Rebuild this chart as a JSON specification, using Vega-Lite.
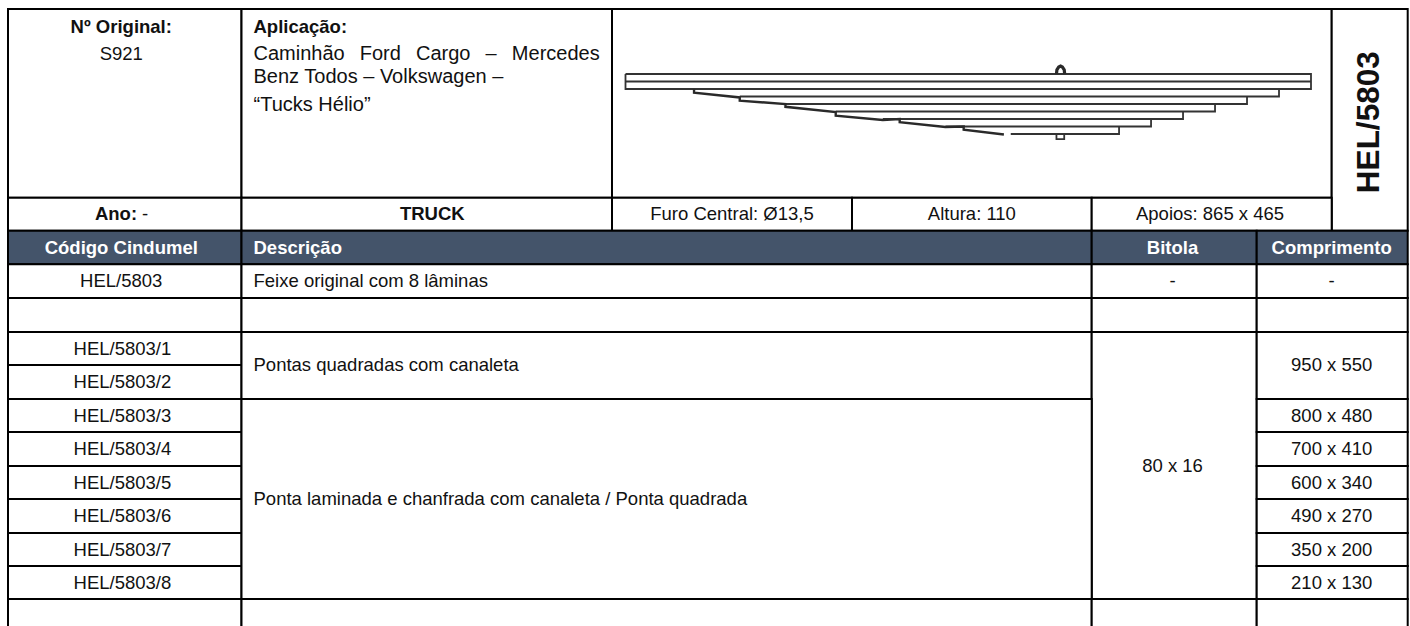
{"$schema":"https://vega.github.io/schema/vega-lite/v6.json","width":1410,"height":626,"padding":0,"autosize":{"type":"fit","contains":"padding"},"background":"#ffffff","config":{"view":{"stroke":null},"axis":{"disable":true},"text":{"font":"Liberation Sans"}},"datasets":{"cells":[
{"c0":0,"c1":1,"r0":0,"r1":1,"kind":"body"},{"c0":1,"c1":2,"r0":0,"r1":1,"kind":"body"},{"c0":2,"c1":6,"r0":0,"r1":1,"kind":"body"},{"c0":6,"c1":7,"r0":0,"r1":2,"kind":"body"},
{"c0":0,"c1":1,"r0":1,"r1":2,"kind":"body"},{"c0":1,"c1":2,"r0":1,"r1":2,"kind":"body"},{"c0":2,"c1":3,"r0":1,"r1":2,"kind":"body"},{"c0":3,"c1":4,"r0":1,"r1":2,"kind":"body"},{"c0":4,"c1":6,"r0":1,"r1":2,"kind":"body"},
{"c0":0,"c1":1,"r0":2,"r1":3,"kind":"head"},{"c0":1,"c1":4,"r0":2,"r1":3,"kind":"head"},{"c0":4,"c1":5,"r0":2,"r1":3,"kind":"head"},{"c0":5,"c1":7,"r0":2,"r1":3,"kind":"head"},
{"c0":0,"c1":1,"r0":3,"r1":4,"kind":"body"},{"c0":1,"c1":4,"r0":3,"r1":4,"kind":"body"},{"c0":4,"c1":5,"r0":3,"r1":4,"kind":"body"},{"c0":5,"c1":7,"r0":3,"r1":4,"kind":"body"},
{"c0":0,"c1":1,"r0":4,"r1":5,"kind":"body"},{"c0":1,"c1":4,"r0":4,"r1":5,"kind":"body"},{"c0":4,"c1":5,"r0":4,"r1":5,"kind":"body"},{"c0":5,"c1":7,"r0":4,"r1":5,"kind":"body"},
{"c0":0,"c1":1,"r0":5,"r1":6,"kind":"body"},{"c0":0,"c1":1,"r0":6,"r1":7,"kind":"body"},{"c0":1,"c1":4,"r0":5,"r1":7,"kind":"body"},{"c0":4,"c1":5,"r0":5,"r1":13,"kind":"body"},{"c0":5,"c1":7,"r0":5,"r1":7,"kind":"body"},
{"c0":0,"c1":1,"r0":7,"r1":8,"kind":"body"},{"c0":0,"c1":1,"r0":8,"r1":9,"kind":"body"},{"c0":0,"c1":1,"r0":9,"r1":10,"kind":"body"},{"c0":0,"c1":1,"r0":10,"r1":11,"kind":"body"},{"c0":0,"c1":1,"r0":11,"r1":12,"kind":"body"},{"c0":0,"c1":1,"r0":12,"r1":13,"kind":"body"},
{"c0":1,"c1":4,"r0":7,"r1":13,"kind":"body"},
{"c0":5,"c1":7,"r0":7,"r1":8,"kind":"body"},{"c0":5,"c1":7,"r0":8,"r1":9,"kind":"body"},{"c0":5,"c1":7,"r0":9,"r1":10,"kind":"body"},{"c0":5,"c1":7,"r0":10,"r1":11,"kind":"body"},{"c0":5,"c1":7,"r0":11,"r1":12,"kind":"body"},{"c0":5,"c1":7,"r0":12,"r1":13,"kind":"body"},
{"c0":0,"c1":1,"r0":13,"r1":14,"kind":"body"},{"c0":1,"c1":4,"r0":13,"r1":14,"kind":"body"},{"c0":4,"c1":5,"r0":13,"r1":14,"kind":"body"},{"c0":5,"c1":7,"r0":13,"r1":14,"kind":"body"}
],"texts":[
{"col":0.485,"row":0.094,"label":"Nº Original:","kind":"boldC"},
{"col":0.485,"row":0.238,"label":"S921","kind":"regC"},
{"col":1,"row":0.094,"label":"Aplicação:","kind":"boldL"},
{"col":1,"row":0.238,"label":"Caminhão\u00a0\u00a0\u2009Ford\u00a0\u00a0\u2009Cargo\u00a0\u00a0\u2009–\u00a0\u00a0\u2009Mercedes","kind":"appL"},
{"col":1,"row":0.36,"label":"Benz Todos – Volkswagen –","kind":"appL"},
{"col":1,"row":0.509,"label":"“Tucks Hélio”","kind":"appL"},
{"col":0.4625,"row":1.5,"label":"Ano:","kind":"boldC"},
{"col":0.587,"row":1.5,"label":"-","kind":"regC"},
{"col":1.515,"row":1.5,"label":"TRUCK","kind":"boldC"},
{"col":2.5,"row":1.5,"label":"Furo Central: Ø13,5","kind":"regC"},
{"col":3.5,"row":1.5,"label":"Altura: 110","kind":"regC"},
{"col":4.717,"row":1.5,"label":"Apoios: 865 x 465","kind":"regC"},
{"col":0.485,"row":2.5,"label":"Código Cindumel","kind":"headC"},
{"col":1,"row":2.5,"label":"Descrição","kind":"headL"},
{"col":4.49,"row":2.5,"label":"Bitola","kind":"headC"},
{"col":6,"row":2.5,"label":"Comprimento","kind":"headC"},
{"col":0.485,"row":3.5,"label":"HEL/5803","kind":"regC"},
{"col":1,"row":3.5,"label":"Feixe original com 8 lâminas","kind":"regL"},
{"col":4.49,"row":3.5,"label":"-","kind":"regC"},
{"col":6,"row":3.5,"label":"-","kind":"regC"},
{"col":0.49,"row":5.5,"label":"HEL/5803/1","kind":"regC"},
{"col":0.49,"row":6.5,"label":"HEL/5803/2","kind":"regC"},
{"col":0.49,"row":7.5,"label":"HEL/5803/3","kind":"regC"},
{"col":0.49,"row":8.5,"label":"HEL/5803/4","kind":"regC"},
{"col":0.49,"row":9.5,"label":"HEL/5803/5","kind":"regC"},
{"col":0.49,"row":10.5,"label":"HEL/5803/6","kind":"regC"},
{"col":0.49,"row":11.5,"label":"HEL/5803/7","kind":"regC"},
{"col":0.49,"row":12.5,"label":"HEL/5803/8","kind":"regC"},
{"col":1,"row":6,"label":"Pontas quadradas com canaleta","kind":"regL"},
{"col":1,"row":10,"label":"Ponta laminada e chanfrada com canaleta / Ponta quadrada","kind":"regL"},
{"col":4.49,"row":9,"label":"80 x 16","kind":"regC"},
{"col":6,"row":6,"label":"950 x 550","kind":"regC"},
{"col":6,"row":7.5,"label":"800 x 480","kind":"regC"},
{"col":6,"row":8.5,"label":"700 x 410","kind":"regC"},
{"col":6,"row":9.5,"label":"600 x 340","kind":"regC"},
{"col":6,"row":10.5,"label":"490 x 270","kind":"regC"},
{"col":6,"row":11.5,"label":"350 x 200","kind":"regC"},
{"col":6,"row":12.5,"label":"210 x 130","kind":"regC"},
{"col":6.5,"row":0.6,"label":"HEL/5803","kind":"side"}
],"leaf":[
{"part":"top","seq":1,"mm":-950,"depth":0,"kind":"leaf"},{"part":"top","seq":2,"mm":550,"depth":0,"kind":"leaf"},{"part":"top","seq":3,"mm":550,"depth":32,"kind":"leaf"},{"part":"top","seq":4,"mm":-950,"depth":32,"kind":"leaf"},{"part":"top","seq":5,"mm":-950,"depth":0,"kind":"leaf"},
{"part":"mid","seq":1,"mm":-950,"depth":16,"kind":"leaf"},{"part":"mid","seq":2,"mm":550,"depth":16,"kind":"leaf"},
{"part":"l3","seq":1,"mm":480,"depth":32,"kind":"leaf"},{"part":"l3","seq":2,"mm":480,"depth":48,"kind":"leaf"},{"part":"l3","seq":3,"mm":-700,"depth":48,"kind":"leaf"},
{"part":"l4","seq":1,"mm":410,"depth":48,"kind":"leaf"},{"part":"l4","seq":2,"mm":410,"depth":64,"kind":"leaf"},{"part":"l4","seq":3,"mm":-600,"depth":64,"kind":"leaf"},
{"part":"l5","seq":1,"mm":340,"depth":64,"kind":"leaf"},{"part":"l5","seq":2,"mm":340,"depth":80,"kind":"leaf"},{"part":"l5","seq":3,"mm":-490,"depth":80,"kind":"leaf"},
{"part":"l6","seq":1,"mm":270,"depth":80,"kind":"leaf"},{"part":"l6","seq":2,"mm":270,"depth":96,"kind":"leaf"},{"part":"l6","seq":3,"mm":-387,"depth":96,"kind":"leaf"},
{"part":"l7","seq":1,"mm":200,"depth":96,"kind":"leaf"},{"part":"l7","seq":2,"mm":200,"depth":112,"kind":"leaf"},{"part":"l7","seq":3,"mm":-250,"depth":112,"kind":"leaf"},
{"part":"l8","seq":1,"mm":130,"depth":112,"kind":"leaf"},{"part":"l8","seq":2,"mm":130,"depth":128,"kind":"leaf"},{"part":"l8","seq":3,"mm":-107,"depth":128,"kind":"leaf"},
{"part":"nib","seq":1,"mm":-7,"depth":128,"kind":"leaf"},{"part":"nib","seq":2,"mm":-7,"depth":139,"kind":"leaf"},{"part":"nib","seq":3,"mm":10,"depth":139,"kind":"leaf"},{"part":"nib","seq":4,"mm":10,"depth":128,"kind":"leaf"},
{"part":"bolt","seq":1,"mm":-7,"depth":0,"kind":"bolt"},{"part":"bolt","seq":2,"mm":-6,"depth":-9,"kind":"bolt"},{"part":"bolt","seq":3,"mm":-2,"depth":-15,"kind":"bolt"},{"part":"bolt","seq":4,"mm":2,"depth":-17,"kind":"bolt"},{"part":"bolt","seq":5,"mm":6,"depth":-15,"kind":"bolt"},{"part":"bolt","seq":6,"mm":10,"depth":-9,"kind":"bolt"},{"part":"bolt","seq":7,"mm":11,"depth":0,"kind":"bolt"},
{"part":"taper","seq":1,"mm":-800,"depth":32,"kind":"heavy"},{"part":"taper","seq":2,"mm":-800,"depth":40,"kind":"heavy"},{"part":"taper","seq":3,"mm":-700,"depth":50,"kind":"heavy"},{"part":"taper","seq":4,"mm":-700,"depth":57,"kind":"heavy"},{"part":"taper","seq":5,"mm":-600,"depth":64,"kind":"heavy"},{"part":"taper","seq":6,"mm":-600,"depth":70,"kind":"heavy"},{"part":"taper","seq":7,"mm":-490,"depth":81,"kind":"heavy"},{"part":"taper","seq":8,"mm":-490,"depth":89,"kind":"heavy"},{"part":"taper","seq":9,"mm":-387,"depth":98,"kind":"heavy"},{"part":"taper","seq":10,"mm":-350,"depth":96,"kind":"heavy"},{"part":"taper","seq":11,"mm":-350,"depth":103,"kind":"heavy"},{"part":"taper","seq":12,"mm":-250,"depth":113,"kind":"heavy"},{"part":"taper","seq":13,"mm":-210,"depth":112,"kind":"heavy"},{"part":"taper","seq":14,"mm":-210,"depth":119,"kind":"heavy"},{"part":"taper","seq":15,"mm":-122,"depth":129,"kind":"heavy"}
]},
"resolve":{"scale":{"x":"independent","y":"independent"}},
"layer":[
{"data":{"name":"cells"},"mark":{"type":"rect","stroke":"#000000","strokeWidth":2,"clip":true},"encoding":{
"x":{"field":"c0","type":"quantitative","scale":{"domain":[0,1,2,3,4,5,6,7],"range":[8,241.5,612,852,1091.7,1256.7,1331.7,1407.7],"nice":false,"zero":false}},
"x2":{"field":"c1"},
"y":{"field":"r0","type":"quantitative","scale":{"domain":[0,1,2,3,4,5,6,7,8,9,10,11,12,13,14],"range":[9,197.7,230.7,264.3,298,332,365,399,432,466,499,533,566,599,634],"nice":false,"zero":false}},
"y2":{"field":"r1"},
"color":{"field":"kind","type":"nominal","scale":{"domain":["body","head"],"range":["#ffffff","#44546a"]},"legend":null}}},
{"data":{"name":"texts"},"transform":[{"filter":"datum.kind==='regC'"}],"mark":{"type":"text","align":"center","baseline":"middle","fontSize":18.5,"font":"Liberation Sans","fill":"#111111"},
"encoding":{"x":{"field":"col","type":"quantitative","scale":{"domain":[0,1,2,3,4,5,6,7],"range":[8,241.5,612,852,1091.7,1256.7,1331.7,1407.7],"nice":false,"zero":false}},"y":{"field":"row","type":"quantitative","scale":{"domain":[0,1,2,3,4,5,6,7,8,9,10,11,12,13,14],"range":[9,197.7,230.7,264.3,298,332,365,399,432,466,499,533,566,599,634],"nice":false,"zero":false}},"text":{"field":"label"}}},
{"data":{"name":"texts"},"transform":[{"filter":"datum.kind==='regL'"}],"mark":{"type":"text","align":"left","dx":12,"baseline":"middle","fontSize":18.5,"font":"Liberation Sans","fill":"#111111"},
"encoding":{"x":{"field":"col","type":"quantitative","scale":{"domain":[0,1,2,3,4,5,6,7],"range":[8,241.5,612,852,1091.7,1256.7,1331.7,1407.7],"nice":false,"zero":false}},"y":{"field":"row","type":"quantitative","scale":{"domain":[0,1,2,3,4,5,6,7,8,9,10,11,12,13,14],"range":[9,197.7,230.7,264.3,298,332,365,399,432,466,499,533,566,599,634],"nice":false,"zero":false}},"text":{"field":"label"}}},
{"data":{"name":"texts"},"transform":[{"filter":"datum.kind==='appL'"}],"mark":{"type":"text","align":"left","dx":12,"baseline":"middle","fontSize":20,"font":"Liberation Sans","fill":"#111111"},
"encoding":{"x":{"field":"col","type":"quantitative","scale":{"domain":[0,1,2,3,4,5,6,7],"range":[8,241.5,612,852,1091.7,1256.7,1331.7,1407.7],"nice":false,"zero":false}},"y":{"field":"row","type":"quantitative","scale":{"domain":[0,1,2,3,4,5,6,7,8,9,10,11,12,13,14],"range":[9,197.7,230.7,264.3,298,332,365,399,432,466,499,533,566,599,634],"nice":false,"zero":false}},"text":{"field":"label"}}},
{"data":{"name":"texts"},"transform":[{"filter":"datum.kind==='boldC'"}],"mark":{"type":"text","align":"center","baseline":"middle","fontSize":18.5,"fontWeight":"bold","font":"Liberation Sans","fill":"#111111"},
"encoding":{"x":{"field":"col","type":"quantitative","scale":{"domain":[0,1,2,3,4,5,6,7],"range":[8,241.5,612,852,1091.7,1256.7,1331.7,1407.7],"nice":false,"zero":false}},"y":{"field":"row","type":"quantitative","scale":{"domain":[0,1,2,3,4,5,6,7,8,9,10,11,12,13,14],"range":[9,197.7,230.7,264.3,298,332,365,399,432,466,499,533,566,599,634],"nice":false,"zero":false}},"text":{"field":"label"}}},
{"data":{"name":"texts"},"transform":[{"filter":"datum.kind==='boldL'"}],"mark":{"type":"text","align":"left","dx":12,"baseline":"middle","fontSize":18.5,"fontWeight":"bold","font":"Liberation Sans","fill":"#111111"},
"encoding":{"x":{"field":"col","type":"quantitative","scale":{"domain":[0,1,2,3,4,5,6,7],"range":[8,241.5,612,852,1091.7,1256.7,1331.7,1407.7],"nice":false,"zero":false}},"y":{"field":"row","type":"quantitative","scale":{"domain":[0,1,2,3,4,5,6,7,8,9,10,11,12,13,14],"range":[9,197.7,230.7,264.3,298,332,365,399,432,466,499,533,566,599,634],"nice":false,"zero":false}},"text":{"field":"label"}}},
{"data":{"name":"texts"},"transform":[{"filter":"datum.kind==='headC'"}],"mark":{"type":"text","align":"center","baseline":"middle","fontSize":18.5,"fontWeight":"bold","font":"Liberation Sans","fill":"#ffffff"},
"encoding":{"x":{"field":"col","type":"quantitative","scale":{"domain":[0,1,2,3,4,5,6,7],"range":[8,241.5,612,852,1091.7,1256.7,1331.7,1407.7],"nice":false,"zero":false}},"y":{"field":"row","type":"quantitative","scale":{"domain":[0,1,2,3,4,5,6,7,8,9,10,11,12,13,14],"range":[9,197.7,230.7,264.3,298,332,365,399,432,466,499,533,566,599,634],"nice":false,"zero":false}},"text":{"field":"label"}}},
{"data":{"name":"texts"},"transform":[{"filter":"datum.kind==='headL'"}],"mark":{"type":"text","align":"left","dx":12,"baseline":"middle","fontSize":18.5,"fontWeight":"bold","font":"Liberation Sans","fill":"#ffffff"},
"encoding":{"x":{"field":"col","type":"quantitative","scale":{"domain":[0,1,2,3,4,5,6,7],"range":[8,241.5,612,852,1091.7,1256.7,1331.7,1407.7],"nice":false,"zero":false}},"y":{"field":"row","type":"quantitative","scale":{"domain":[0,1,2,3,4,5,6,7,8,9,10,11,12,13,14],"range":[9,197.7,230.7,264.3,298,332,365,399,432,466,499,533,566,599,634],"nice":false,"zero":false}},"text":{"field":"label"}}},
{"data":{"name":"texts"},"transform":[{"filter":"datum.kind==='side'"}],"mark":{"type":"text","align":"center","baseline":"middle","angle":270,"fontSize":31.5,"fontWeight":"bold","font":"Liberation Sans","fill":"#111111"},
"encoding":{"x":{"field":"col","type":"quantitative","scale":{"domain":[0,1,2,3,4,5,6,7],"range":[8,241.5,612,852,1091.7,1256.7,1331.7,1407.7],"nice":false,"zero":false}},"y":{"field":"row","type":"quantitative","scale":{"domain":[0,1,2,3,4,5,6,7,8,9,10,11,12,13,14],"range":[9,197.7,230.7,264.3,298,332,365,399,432,466,499,533,566,599,634],"nice":false,"zero":false}},"text":{"field":"label"}}},
{"layer":[
{"data":{"name":"leaf"},"transform":[{"filter":"datum.kind==='leaf'"}],"mark":{"type":"line","stroke":"#333333","strokeWidth":1.8},
"encoding":{"x":{"field":"mm","type":"quantitative","scale":{"domain":[-950,550],"range":[625.5,1311],"nice":false,"zero":false}},"y":{"field":"depth","type":"quantitative","scale":{"domain":[0,128],"range":[74,134],"nice":false,"zero":false}},"detail":{"field":"part"},"order":{"field":"seq"}}},
{"data":{"name":"leaf"},"transform":[{"filter":"datum.kind==='heavy'"}],"mark":{"type":"line","stroke":"#2a2a2a","strokeWidth":2.4},
"encoding":{"x":{"field":"mm","type":"quantitative"},"y":{"field":"depth","type":"quantitative"},"detail":{"field":"part"},"order":{"field":"seq"}}},
{"data":{"name":"leaf"},"transform":[{"filter":"datum.kind==='bolt'"}],"mark":{"type":"line","stroke":"#2a2a2a","strokeWidth":3.2},
"encoding":{"x":{"field":"mm","type":"quantitative"},"y":{"field":"depth","type":"quantitative"},"detail":{"field":"part"},"order":{"field":"seq"}}}
]}
]}
